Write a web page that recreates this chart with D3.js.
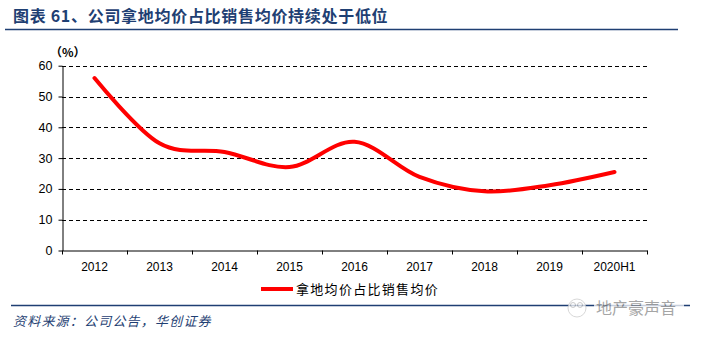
<!DOCTYPE html>
<html><head><meta charset="utf-8">
<script src="https://cdn.jsdelivr.net/npm/d3@7"></script>
<style>body{margin:0;background:#fff}svg{display:block}</style>
</head><body>
<script>
const categories = ["2012","2013","2014","2015","2016","2017","2018","2019","2020H1"];
const values = [56.0, 34.8, 32.0, 27.1, 35.3, 23.9, 19.2, 21.2, 25.5];
const yTicks = [0,10,20,30,40,50,60];
const seriesName = "拿地均价占比销售均价";
const titleText = "图表 61、公司拿地均价占比销售均价持续处于低位";
const sourceText = "资料来源：公司公告，华创证券";
const watermarkText = "地产豪声音";

const W = 703, H = 339;
const navy = "#1F3F73";
const svg = d3.select("body").append("svg").attr("width", W).attr("height", H);

const x = d3.scaleBand().domain(categories).range([62, 647]);
const y = d3.scaleLinear().domain([0, 60]).range([250.5, 65.7]);

// title
svg.append("text").attr("x", 13).attr("y", 22)
  .attr("font-family", "'Noto Sans CJK SC', sans-serif").attr("font-weight", "bold")
  .attr("font-size", 16).attr("letter-spacing", 0.7).attr("fill", navy).text(titleText);
svg.append("line").attr("x1", 5).attr("x2", 678).attr("y1", 29.5).attr("y2", 29.5)
  .attr("stroke", navy).attr("stroke-width", 1.5);

// unit
svg.append("text").attr("x", 50).attr("y", 57)
  .attr("font-family", "'Noto Sans CJK SC', sans-serif").attr("font-weight", "bold")
  .attr("font-size", 12).attr("fill", "#000").text("（%）");

// grid
svg.append("g").selectAll("line").data(yTicks.filter(d => d > 0)).join("line")
  .attr("x1", 62).attr("x2", 647).attr("y1", d => Math.round(y(d)) + 0.5).attr("y2", d => Math.round(y(d)) + 0.5)
  .attr("stroke", "#000").attr("stroke-width", 1).attr("stroke-dasharray", "4,3");

// y axis
const yAxis = d3.axisLeft(y).tickValues(yTicks).tickSize(4).tickSizeOuter(0);
const gy = svg.append("g").attr("transform", "translate(62.5,0)").call(yAxis);
gy.select(".domain").attr("stroke", "#000");
gy.selectAll(".tick line").attr("stroke", "#000");
gy.selectAll("text").attr("font-family", "'Liberation Sans', Arial, sans-serif")
  .attr("font-size", 12.5).attr("fill", "#000").attr("x", -10);

// x axis
const xAxis = d3.axisBottom(x).tickSize(0).tickSizeOuter(0);
const gx = svg.append("g").attr("transform", "translate(0,250.5)").call(xAxis);
gx.select(".domain").attr("stroke", "#000");
gx.selectAll("text").attr("font-family", "'Liberation Sans', Arial, sans-serif")
  .attr("font-size", 12).attr("fill", "#000").attr("dy", "1.45em");
// boundary ticks
const bounds = categories.map(c => x(c)).concat([x.range()[1]]);
gx.append("g").selectAll("line").data(bounds).join("line")
  .attr("x1", d => Math.round(d) + 0.5).attr("x2", d => Math.round(d) + 0.5)
  .attr("y1", 0).attr("y2", 4).attr("stroke", "#000");

// line
const line = d3.line()
  .x((d, i) => x(categories[i]) + x.bandwidth() / 2)
  .y(d => y(d))
  .curve(d3.curveCatmullRom.alpha(0));
svg.append("path").datum(values).attr("d", line)
  .attr("fill", "none").attr("stroke", "#FF0000").attr("stroke-width", 4)
  .attr("stroke-linecap", "round").attr("stroke-linejoin", "round");

// legend
svg.append("line").attr("x1", 261).attr("x2", 293).attr("y1", 289).attr("y2", 289)
  .attr("stroke", "#FF0000").attr("stroke-width", 4);
svg.append("text").attr("x", 296).attr("y", 294)
  .attr("font-family", "'Noto Sans CJK SC', sans-serif")
  .attr("font-size", 13).attr("letter-spacing", 1.3).attr("fill", "#000").text(seriesName);

// footer
svg.append("line").attr("x1", 11).attr("x2", 690).attr("y1", 305.5).attr("y2", 305.5)
  .attr("stroke", navy).attr("stroke-width", 1.3);
svg.append("text").attr("x", 13).attr("y", 326)
  .attr("font-family", "'Noto Sans CJK SC', sans-serif").attr("font-style", "italic")
  .attr("font-size", 13).attr("letter-spacing", 1.2).attr("fill", navy).text(sourceText);

// watermark
const wm = svg.append("g").attr("opacity", 0.75);
wm.append("circle").attr("cx", 577).attr("cy", 308).attr("r", 9).attr("fill", "#fff").attr("stroke", "#ccc");
wm.append("circle").attr("cx", 573).attr("cy", 305).attr("r", 2.5).attr("fill", "none").attr("stroke", "#bbb");
wm.append("circle").attr("cx", 580).attr("cy", 305).attr("r", 2.5).attr("fill", "none").attr("stroke", "#bbb");
wm.append("rect").attr("x", 594).attr("y", 298).attr("width", 90).attr("height", 18).attr("fill", "#fff");
wm.append("text").attr("x", 596).attr("y", 314)
  .attr("font-family", "'Noto Sans CJK SC', sans-serif")
  .attr("font-size", 16).attr("fill", "#888").text(watermarkText);
</script>
</body></html>
